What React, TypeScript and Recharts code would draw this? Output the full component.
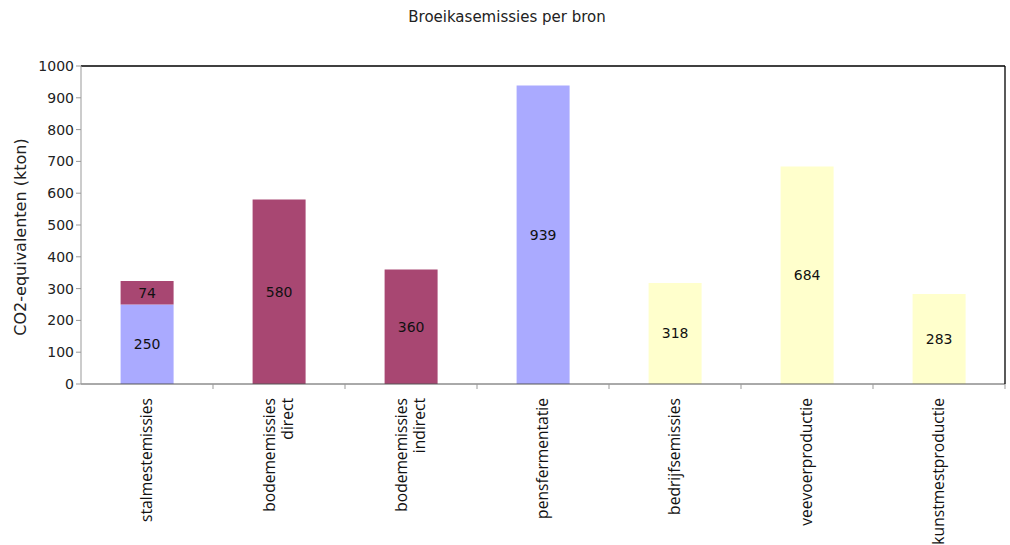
import React from 'react';
import { BarChart, Bar, XAxis, YAxis, LabelList, Label } from 'recharts';

// Categories (x axis), newline = second label line
const categories = [
  'stalmestemissies',
  'bodememissies\ndirect',
  'bodememissies\nindirect',
  'pensfermentatie',
  'bedrijfsemissies',
  'veevoerproductie',
  'kunstmestproductie',
];

// Series values in kton CO2-equivalents
const methaan = [250, null, null, 939, null, null, null];
const lachgas = [74, 580, 360, null, null, null, null];
const koolstofdioxide = [null, null, null, null, 318, 684, 283];

const yTicks = [0, 100, 200, 300, 400, 500, 600, 700, 800, 900, 1000];

const data = categories.map((name, i) => ({
  name,
  methaan: methaan[i],
  lachgas: lachgas[i],
  koolstofdioxide: koolstofdioxide[i],
}));

const FONT = '"DejaVu Sans", Verdana, sans-serif';

const CategoryTick = (props: any) => {
  const { x, y, payload } = props;
  const lines: string[] = String(payload.value).split('\n');
  const lineH = 18;
  const half = payload.offset || 0;
  return (
    <g>
      {half > 0 && (
        <line x1={x + half} y1={y - 8} x2={x + half} y2={y - 3} stroke="#999" />
      )}
      <text
        transform={`translate(${x + 5 - ((lines.length - 1) * lineH) / 2},${y + 6}) rotate(-90)`}
        textAnchor="end"
        fontFamily='"Open Sans", sans-serif'
        fontSize={15.6}
        fill="#111"
      >
        {lines.map((l, i) => (
          <tspan key={i} x={0} dy={i === 0 ? 0 : lineH}>
            {l}
          </tspan>
        ))}
      </text>
    </g>
  );
};

const fmt = (v: any) => (v == null ? '' : v);

export default function App() {
  return (
    <div style={{ position: 'absolute', left: 0, top: 0, width: 1010, height: 545, background: '#fff' }}>
      <div
        style={{
          position: 'absolute',
          left: 0,
          top: 8,
          width: 1014,
          textAlign: 'center',
          fontFamily: FONT,
          fontSize: 15,
          color: '#222',
        }}
      >
        Broeikasemissies per bron
      </div>
      <BarChart
        width={1010}
        height={545}
        data={data}
        margin={{ top: 65, right: 4, bottom: 0, left: 0 }}
        barCategoryGap="30%"
      >
        <XAxis
          dataKey="name"
          height={161}
          interval={0}
          tickLine={false}
          axisLine={{ stroke: '#555' }}
          tick={<CategoryTick />}
        />
        <XAxis xAxisId="top" orientation="top" dataKey="name" height={1} tick={false} tickLine={false} axisLine={{ stroke: '#000', strokeWidth: 1.3 }} />
        <YAxis
          domain={[0, 1000]}
          ticks={yTicks}
          width={81}
          interval={0}
          tickSize={5}
          tickLine={{ stroke: '#999' }}
          axisLine={{ stroke: '#999' }}
          tick={{ fontFamily: FONT, fontSize: 14, fill: '#222' }}
        >
          <Label
            content={() => (
              <text
                transform="translate(26,237) rotate(-90)"
                textAnchor="middle"
                fontFamily={FONT}
                fontSize={16}
                fill="#222"
              >
                CO2-equivalenten (kton)
              </text>
            )}
          />
        </YAxis>
        <YAxis yAxisId="right" orientation="right" width={1} domain={[0, 1000]} tick={false} tickLine={false} axisLine={{ stroke: '#000', strokeWidth: 1.3 }} />
        <Bar dataKey="methaan" stackId="a" fill="#aaaaff" isAnimationActive={false}>
          <LabelList dataKey="methaan" position="center" formatter={fmt} fontFamily={FONT} fontSize={14} fill="#111" />
        </Bar>
        <Bar dataKey="lachgas" stackId="a" fill="#a84772" isAnimationActive={false}>
          <LabelList dataKey="lachgas" position="center" formatter={fmt} fontFamily={FONT} fontSize={14} fill="#111" />
        </Bar>
        <Bar dataKey="koolstofdioxide" stackId="a" fill="#ffffcc" isAnimationActive={false}>
          <LabelList dataKey="koolstofdioxide" position="center" formatter={fmt} fontFamily={FONT} fontSize={14} fill="#111" />
        </Bar>
      </BarChart>
    </div>
  );
}
